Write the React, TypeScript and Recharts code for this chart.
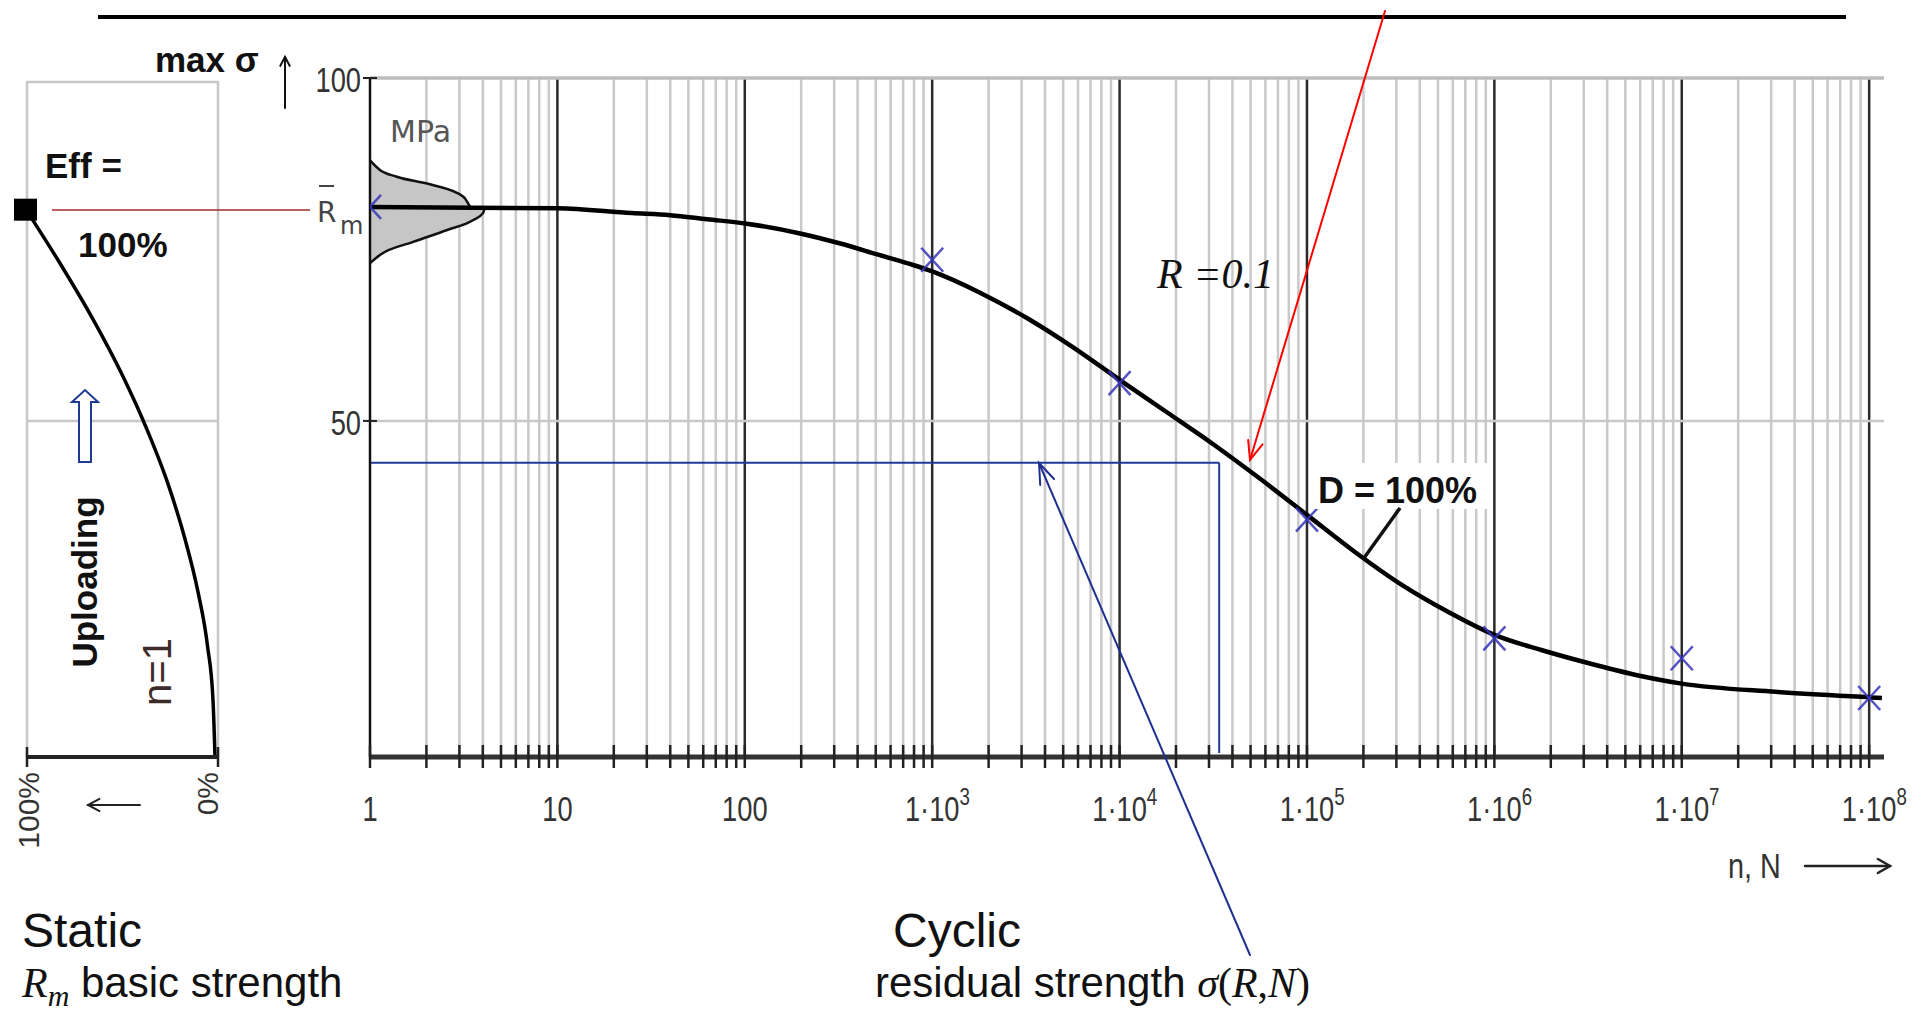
import React from 'react';
import { ComposedChart, LineChart, Line, Area, Scatter, XAxis, YAxis, ReferenceLine, ReferenceArea, CartesianGrid } from 'recharts';

// ---- Main S-N / residual strength curve (n cycles, max sigma in MPa)
const curveN = [1, 10, 25, 40, 63, 100, 200, 320, 520, 800, 1000, 1800, 3200, 5600, 10000, 17800, 31600, 56000, 100000, 178000, 316000, 562000, 1e6, 1.78e6, 3.16e6, 5.62e6, 1e7, 3.16e7, 1e8, 1.17e8];
const curveSigma = [81.2, 81.0, 80.3, 80.0, 79.4, 78.8, 77.3, 75.9, 74.2, 72.7, 71.8, 68.7, 65.0, 60.8, 56.0, 51.3, 46.6, 41.6, 36.3, 31.0, 26.2, 22.2, 18.8, 16.6, 14.7, 13.0, 11.7, 10.5, 9.7, 9.6];

// ---- Test points (blue crosses)
const markerN = [1, 1e3, 1e4, 1e5, 1e6, 1e7, 1e8];
const markerSigma = [81.2, 73.5, 55.5, 35.6, 18.3, 15.4, 9.6];

// ---- Static strength scatter distribution (sideways bell at n = 1)
const rm = 81.2;
const bellUpperN = [1, 1.13, 1.39, 2.09, 3.15, 3.42];
const bellUpperSigma = [88.0, 86.6, 85.6, 84.5, 82.7, 81.2];
const bellLowerN = [1, 1.13, 1.7, 2.56, 3.56, 4.01, 4.1];
const bellLowerSigma = [73.0, 74.2, 76.1, 77.8, 79.3, 80.3, 81.2];

// ---- Residual strength read-off
const residualN = 34000;
const residualSigma = 43.9;

// ---- Static uploading curve (left panel)
const staticPct = [100, 82.1, 65.2, 50.3, 37.4, 26.4, 17.5, 10.5, 5.5, 2.6, 1.6];
const staticSigma = [80.6, 72.7, 64.7, 56.8, 48.9, 41.0, 33.0, 25.1, 17.2, 9.2, 1.3];
const effPct = [100];
const effSigma = [80.8];

// ---- Axes
const decadeTicks = [1, 10, 100, 1e3, 1e4, 1e5, 1e6, 1e7, 1e8];
const xTickLabels = ['1', '10', '100', '1·10^3', '1·10^4', '1·10^5', '1·10^6', '1·10^7', '1·10^8'];
const minorMultipliers = [2, 3, 4, 5, 6, 7, 8, 9];
const minorTicks = decadeTicks.slice(0, 8).flatMap((d) => minorMultipliers.map((m) => m * d));
const allXTicks = [...decadeTicks, ...minorTicks].sort((a, b) => a - b);
const yTicks = [50, 100];
const yTickLabels = ['50', '100'];
const pctTicks = [100, 0];
const pctLabels = ['100%', '0%'];

const curveData = curveN.map((n, i) => ({ n, s: curveSigma[i] }));
const markerData = markerN.map((n, i) => ({ n, s: markerSigma[i] }));
const bellUpperData = bellUpperN.map((n, i) => ({ n, s: bellUpperSigma[i] }));
const bellLowerData = bellLowerN.map((n, i) => ({ n, s: bellLowerSigma[i] }));
const staticData = staticPct.map((p, i) => ({ p, s: staticSigma[i] }));
const effData = effPct.map((p, i) => ({ p, s: effSigma[i] }));

const AXIS_FONT = "'Liberation Sans', Arial, sans-serif";

function CondLabel({ x, y, text, anchor = 'middle' }: any) {
  const [base, exp] = String(text).split('^');
  return (
    <g transform={`translate(${x},${y}) scale(0.78,1)`}>
      <text x={0} y={0} textAnchor={anchor} fontSize={35} fill="#333" fontFamily={AXIS_FONT}>{base}</text>
      {exp && (
        <text x={35} y={-16} fontSize={24} fill="#333" fontFamily={AXIS_FONT}>{exp}</text>
      )}
    </g>
  );
}

function MainXTick(props: any) {
  const { x, y, payload } = props;
  const v = payload.value;
  const i = decadeTicks.indexOf(v);
  return (
    <g>
      <line x1={x} x2={x} y1={y - 12} y2={y + 11} stroke="#222" strokeWidth={2.5} />
      {i >= 0 && <CondLabel x={x} y={y + 64} text={xTickLabels[i]} />}
    </g>
  );
}

function MainYTick(props: any) {
  const { x, y, payload } = props;
  const i = yTicks.indexOf(payload.value);
  return (
    <g>
      <line x1={x - 7} x2={x + 7} y1={y} y2={y} stroke="#222" strokeWidth={2} />
      <CondLabel x={x - 9} y={y + 14} text={yTickLabels[i]} anchor="end" />
    </g>
  );
}

function PctTick(props: any) {
  const { x, y, payload } = props;
  const v = payload.value;
  const i = pctTicks.indexOf(v);
  const cx = v === 100 ? x + 12 : x;
  return (
    <g>
      <line x1={x} x2={x} y1={y - 10} y2={y + 10} stroke="#222" strokeWidth={2.5} />
      <text x={0} y={0} transform={`translate(${cx},${y + 15}) rotate(-90)`} textAnchor="end" fontSize={30}
        fill="#333" fontFamily={AXIS_FONT}>
        {pctLabels[i]}
      </text>
    </g>
  );
}

const Cross = (props: any) => {
  const { cx, cy } = props;
  if (cx == null || cy == null) return null;
  return (
    <g stroke="#3535b8" strokeWidth={2.5} strokeOpacity={0.85}>
      <line x1={cx - 11} y1={cy - 12} x2={cx + 11} y2={cy + 12} />
      <line x1={cx - 11} y1={cy + 12} x2={cx + 11} y2={cy - 12} />
    </g>
  );
};

const Square = (props: any) => {
  const { cx, cy } = props;
  if (cx == null || cy == null) return null;
  return <rect x={cx - 13} y={cy - 11} width={23} height={22} fill="#000" />;
};

function Arrow({ x1, y1, x2, y2, stroke, sw, len = 20, ang = 24 }: any) {
  const a = Math.atan2(y2 - y1, x2 - x1);
  const r = (ang * Math.PI) / 180;
  const ax = x2 - len * Math.cos(a - r);
  const ay = y2 - len * Math.sin(a - r);
  const bx = x2 - len * Math.cos(a + r);
  const by = y2 - len * Math.sin(a + r);
  return (
    <g stroke={stroke} strokeWidth={sw} fill="none" strokeLinecap="round">
      <line x1={x1} y1={y1} x2={x2} y2={y2} />
      <polyline points={`${ax},${ay} ${x2},${y2} ${bx},${by}`} />
    </g>
  );
}

function Overlay() {
  return (
    <svg width={1915} height={1010} style={{ position: 'absolute', left: 0, top: 0, pointerEvents: 'none' }} fontFamily={AXIS_FONT}>
      {/* top rule */}
      <line x1={98} y1={17} x2={1846} y2={17} stroke="#000" strokeWidth={4} />

      {/* left panel annotations */}
      <text x={155} y={72} fontSize={35} fontWeight="bold" fill="#111">max σ</text>
      <Arrow x1={285} y1={108} x2={285} y2={57} stroke="#111" sw={2} len={10} ang={28} />
      <text x={45} y={178} fontSize={35} fontWeight="bold" fill="#111">Eff =</text>
      <text x={78} y={257} fontSize={35} fontWeight="bold" fill="#111">100%</text>
      <line x1={52} y1={210} x2={310} y2={210} stroke="#a52a2a" strokeWidth={1.6} />
      <text x={317} y={222} fontSize={28} fill="#444" fontFamily="'DejaVu Sans', sans-serif">R</text>
      <line x1={319} y1={186} x2={334} y2={186} stroke="#444" strokeWidth={2} />
      <text x={340} y={234} fontSize={24} fill="#444" fontFamily="'DejaVu Sans', sans-serif">m</text>
      <path d="M79 462 L79 402 L72 402 L85 390 L98 402 L91 402 L91 462 Z" fill="#fff" stroke="#1f3a93" strokeWidth={2} />
      <text x={0} y={0} transform="translate(84,582) rotate(-90)" textAnchor="middle" dominantBaseline="central" fontSize={35} fontWeight="bold" fill="#111">Uploading</text>
      <text x={0} y={0} transform="translate(157,672) rotate(-90)" textAnchor="middle" dominantBaseline="central" fontSize={40} fill="#3d2b2b">n=1</text>
      <Arrow x1={140} y1={805} x2={88} y2={805} stroke="#222" sw={2} len={13} ang={28} />

      {/* main chart annotations */}
      <text x={390} y={142} fontSize={30} fill="#555" fontFamily="'DejaVu Sans', sans-serif">MPa</text>
      <text x={1157} y={288} fontSize={42} fontStyle="italic" fill="#111" fontFamily="'Liberation Serif', 'Times New Roman', serif">R =0.1</text>
      <Arrow x1={1385} y1={11} x2={1250} y2={460} stroke="#ff0000" sw={2} len={20} ang={22} />
      <rect x={1313} y={463} width={176} height={46} fill="#fff" />
      <text x={1318} y={503} fontSize={36} fontWeight="bold" fill="#111">D = 100%</text>
      <line x1={1364} y1={558} x2={1400} y2={508} stroke="#111" strokeWidth={3.5} />
      <Arrow x1={1250} y1={955} x2={1039} y2={463} stroke="#1f2f8f" sw={2} len={22} ang={20} />

      {/* x axis title */}
      <g transform="translate(1728,878) scale(0.8,1)">
        <text x={0} y={0} fontSize={36} fill="#333">n, N</text>
      </g>
      <Arrow x1={1805} y1={866} x2={1890} y2={866} stroke="#222" sw={2.5} len={14} ang={30} />

      {/* bottom captions */}
      <text x={22} y={947} fontSize={48} fill="#111">Static</text>
      <text x={22} y={997} fontSize={42} fill="#111">
        <tspan fontStyle="italic" fontFamily="'Liberation Serif', serif">R</tspan>
        <tspan fontStyle="italic" fontFamily="'Liberation Serif', serif" fontSize={30} dy={9}>m</tspan>
        <tspan dy={-9}> basic strength</tspan>
      </text>
      <text x={893} y={947} fontSize={48} fill="#111">Cyclic</text>
      <text x={875} y={997} fontSize={42} fill="#111">
        <tspan>residual strength </tspan>
        <tspan fontStyle="italic" fontFamily="'Liberation Serif', serif">σ</tspan>
        <tspan fontFamily="'Liberation Serif', serif">(</tspan>
        <tspan fontStyle="italic" fontFamily="'Liberation Serif', serif">R</tspan>
        <tspan fontFamily="'Liberation Serif', serif">,</tspan>
        <tspan fontStyle="italic" fontFamily="'Liberation Serif', serif">N</tspan>
        <tspan fontFamily="'Liberation Serif', serif">)</tspan>
      </text>
    </svg>
  );
}

export default function App() {
  return (
    <div style={{ position: 'relative', width: 1915, height: 1010, background: '#fff', fontFamily: AXIS_FONT, overflow: 'hidden' }}>
      <style>{`body{margin:0;background:#fff;}`}</style>

      {/* Left panel: static loading curve */}
      <div style={{ position: 'absolute', left: 0, top: 0 }}>
        <LineChart width={240} height={1010} margin={{ top: 78, right: 22, bottom: 153, left: 27 }}>
          <XAxis dataKey="p" type="number" domain={[0, 100]} reversed ticks={pctTicks} interval={0}
            tick={(p: any) => <PctTick {...p} />} tickLine={false} tickSize={0} tickMargin={0}
            axisLine={{ stroke: '#222', strokeWidth: 4 }} height={100} />
          <YAxis type="number" domain={[1, 100]} hide />
          <ReferenceArea x1={0} x2={100} y1={1} y2={99.4} fill="none" stroke="#c8c8c8" strokeWidth={2.5} ifOverflow="visible" />
          <ReferenceLine y={50} stroke="#c8c8c8" strokeWidth={2.5} />
          <Line data={staticData} dataKey="s" type="monotone" stroke="#000" strokeWidth={3.5} dot={false} activeDot={false} isAnimationActive={false} />
          <Scatter data={effData} dataKey="s" shape={Square} isAnimationActive={false} />
        </LineChart>
      </div>

      {/* Main chart: cyclic residual strength */}
      <div style={{ position: 'absolute', left: 0, top: 0 }}>
        <ComposedChart width={1915} height={1010} margin={{ top: 78, right: 31, bottom: 153, left: 310 }}>
          <CartesianGrid horizontal={false} verticalValues={minorTicks} stroke="#c9c9c9" strokeWidth={2.5} />
          <CartesianGrid horizontal={false} verticalValues={decadeTicks.slice(1)} stroke="#2b2b2b" strokeWidth={2.5} />
          <CartesianGrid vertical={false} horizontalValues={[50]} stroke="#c8c8c8" strokeWidth={2.5} />
          <XAxis dataKey="n" type="number" scale="log" domain={[1, 1.2e8]} allowDataOverflow ticks={allXTicks} interval={0}
            tick={(p: any) => <MainXTick {...p} />} tickLine={false} tickSize={0} tickMargin={0}
            axisLine={{ stroke: '#333', strokeWidth: 5 }} height={100} />
          <YAxis type="number" domain={[1, 100]} allowDataOverflow ticks={yTicks} interval={0}
            tick={(p: any) => <MainYTick {...p} />} tickLine={false} tickSize={0} tickMargin={0}
            axisLine={{ stroke: '#111', strokeWidth: 2.5 }} width={60} />
          <ReferenceLine y={100} stroke="#bdbdbd" strokeWidth={3.5} />
          <Area data={bellUpperData} dataKey="s" baseValue={rm} type="monotone" fill="#c6c6c6" fillOpacity={1}
            stroke="#111" strokeWidth={2.5} dot={false} activeDot={false} isAnimationActive={false} />
          <Area data={bellLowerData} dataKey="s" baseValue={rm} type="monotone" fill="#c6c6c6" fillOpacity={1}
            stroke="#111" strokeWidth={2.5} dot={false} activeDot={false} isAnimationActive={false} />
          <ReferenceLine segment={[{ x: 1, y: residualSigma }, { x: residualN, y: residualSigma }]} stroke="#1f3a93" strokeWidth={2} />
          <ReferenceLine segment={[{ x: residualN, y: 1.6 }, { x: residualN, y: residualSigma }]} stroke="#1f3a93" strokeWidth={2} />
          <Line data={curveData} dataKey="s" type="monotone" stroke="#000" strokeWidth={4.5} dot={false} activeDot={false} isAnimationActive={false} />
          <Scatter data={markerData} dataKey="s" shape={Cross} isAnimationActive={false} />
        </ComposedChart>
      </div>

      <Overlay />
    </div>
  );
}
